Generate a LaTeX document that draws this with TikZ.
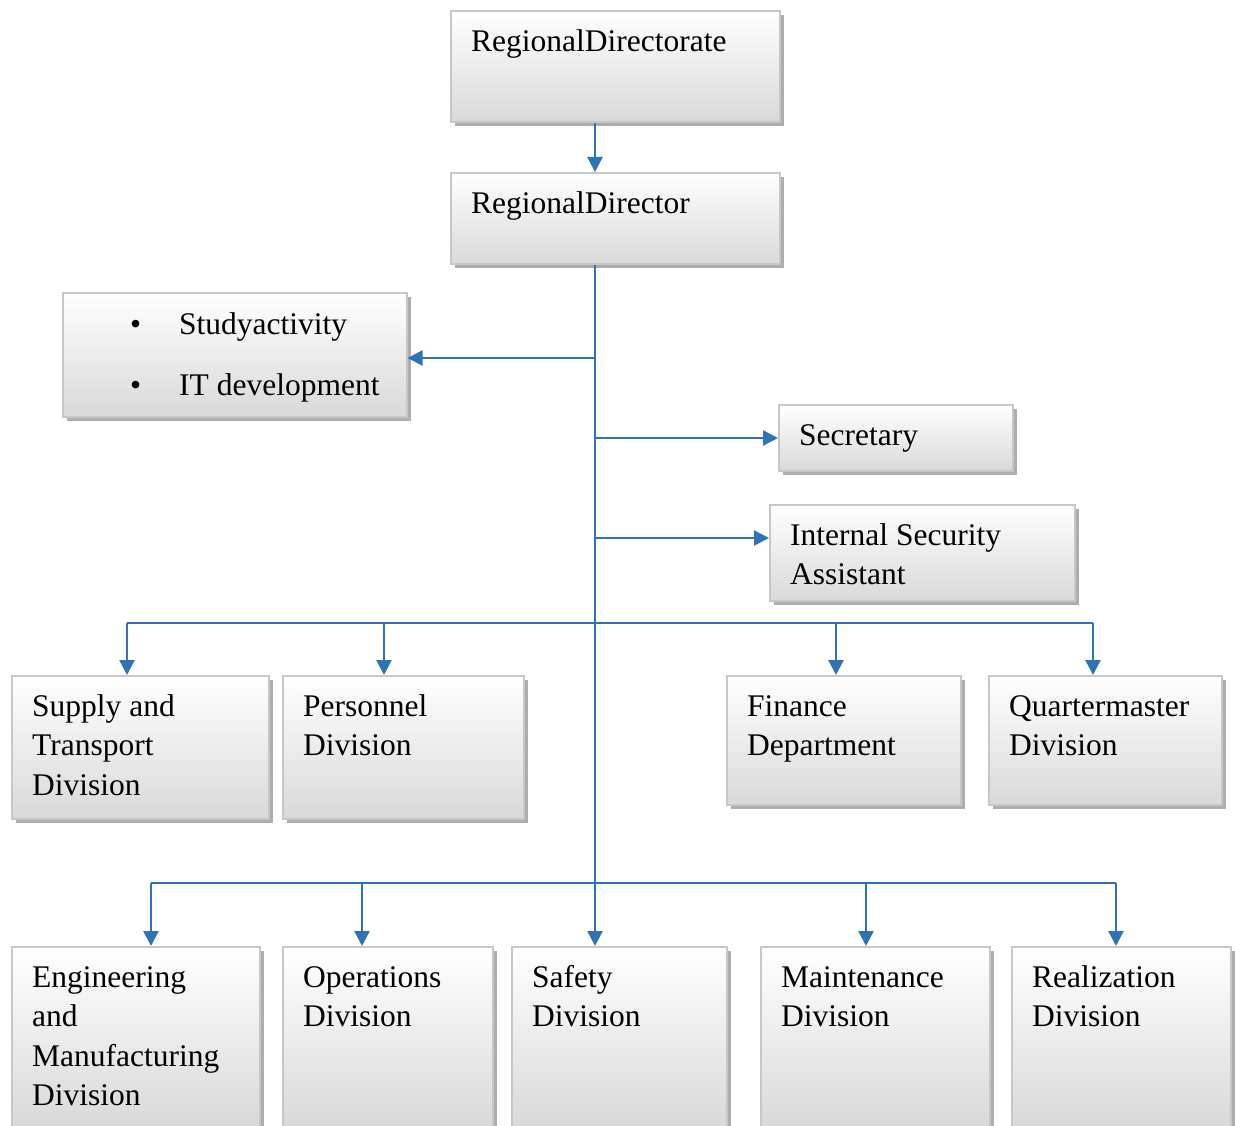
\documentclass[tikz,border=0pt]{standalone}
\usepackage{fontspec}
\setmainfont{Liberation Serif}
\usetikzlibrary{shadows,arrows.meta}
\definecolor{linkblue}{HTML}{2E74B5}
\tikzset{
  x=1pt, y=-1pt,
  orgbox/.style={draw=black!22, line width=1.6pt, top color=white, bottom color=black!15,
    anchor=north west, inner sep=0pt,
    drop shadow={shadow xshift=4pt, shadow yshift=-4pt, fill=black!32, opacity=1}},
  boxtext/.style={anchor=north west, inner sep=0pt, align=left,
    font=\fontsize{31.5}{39.5}\selectfont},
  link/.style={draw=linkblue, line width=2.4pt},
  arrowlink/.style={link, -{Triangle[length=15pt,width=15pt]}},
}
% \unit{name}{x}{y}{width}{height}{text}; first baseline 41pt below the top edge
% (the strut is 0.7*39.5 = 27.65pt tall)
\newcommand\unit[6]{%
  \node[orgbox, minimum width=#4pt, minimum height=#5pt] (#1) at (#2,#3) {};
  \node[boxtext] (#1-text) at (#2+21,#3+13.35) {\strut#6};
}
\begin{document}
\begin{tikzpicture}
\useasboundingbox[fill=white] (0,0) rectangle (1235,1126);

\unit{directorate}{450}{10}{329}{111}{RegionalDirectorate}
\unit{director}{450}{172}{329}{91}{RegionalDirector}
\node[orgbox, minimum width=344pt, minimum height=124pt] (study) at (62,292) {};
\node[boxtext] (study-b1) at (130,306.35) {\strut•};
\node[boxtext] (study-t1) at (179,306.35) {\strut Studyactivity};
\node[boxtext] (study-b2) at (130,367.35) {\strut•};
\node[boxtext] (study-t2) at (179,367.35) {\strut IT development};
\unit{secretary}{778}{404}{234}{66}{Secretary}
\unit{security}{769}{504}{305}{96}{Internal Security\\Assistant}

\unit{supply}{11}{675}{257}{143}{Supply and\\Transport\\Division}
\unit{personnel}{282}{675}{241}{143}{Personnel\\Division}
\unit{finance}{726}{675}{234}{129}{Finance\\Department}
\unit{quarter}{988}{675}{233}{129}{Quartermaster\\Division}

\unit{engineering}{11}{946}{248}{180}{Engineering\\and\\Manufacturing\\Division}
\unit{operations}{282}{946}{210}{180}{Operations\\Division}
\unit{safety}{511}{946}{215}{180}{Safety\\Division}
\unit{maintenance}{760}{946}{229}{180}{Maintenance\\Division}
\unit{realization}{1011}{946}{219}{180}{Realization\\Division}

% trunk
\coordinate (trunk) at (595,0);
\draw[arrowlink] (directorate.south -| trunk) -- (director.north -| trunk);
\draw[arrowlink] (director.south -| trunk) -- (safety.north -| trunk);

% staff branches
\coordinate (bstudy) at (595,358);
\coordinate (bsec) at (595,438);
\coordinate (bsecu) at (595,538);
\draw[arrowlink] (bstudy) -- (bstudy -| study.east);
\draw[arrowlink] (bsec) -- (bsec -| secretary.west);
\draw[arrowlink] (bsecu) -- (bsecu -| security.west);

% first row of divisions
\coordinate (row1) at (0,623);
\coordinate (d1) at (127,0);
\coordinate (d2) at (384,0);
\coordinate (d3) at (836,0);
\coordinate (d4) at (1093,0);
\draw[link] (row1 -| d1) -- (row1 -| d4);
\draw[arrowlink] (row1 -| d1) -- (supply.north -| d1);
\draw[arrowlink] (row1 -| d2) -- (personnel.north -| d2);
\draw[arrowlink] (row1 -| d3) -- (finance.north -| d3);
\draw[arrowlink] (row1 -| d4) -- (quarter.north -| d4);

% second row of divisions
\coordinate (row2) at (0,883);
\coordinate (e1) at (151,0);
\coordinate (e2) at (362,0);
\coordinate (e4) at (866,0);
\coordinate (e5) at (1116,0);
\draw[link] (row2 -| e1) -- (row2 -| e5);
\draw[arrowlink] (row2 -| e1) -- (engineering.north -| e1);
\draw[arrowlink] (row2 -| e2) -- (operations.north -| e2);
\draw[arrowlink] (row2 -| e4) -- (maintenance.north -| e4);
\draw[arrowlink] (row2 -| e5) -- (realization.north -| e5);
\end{tikzpicture}
\end{document}
